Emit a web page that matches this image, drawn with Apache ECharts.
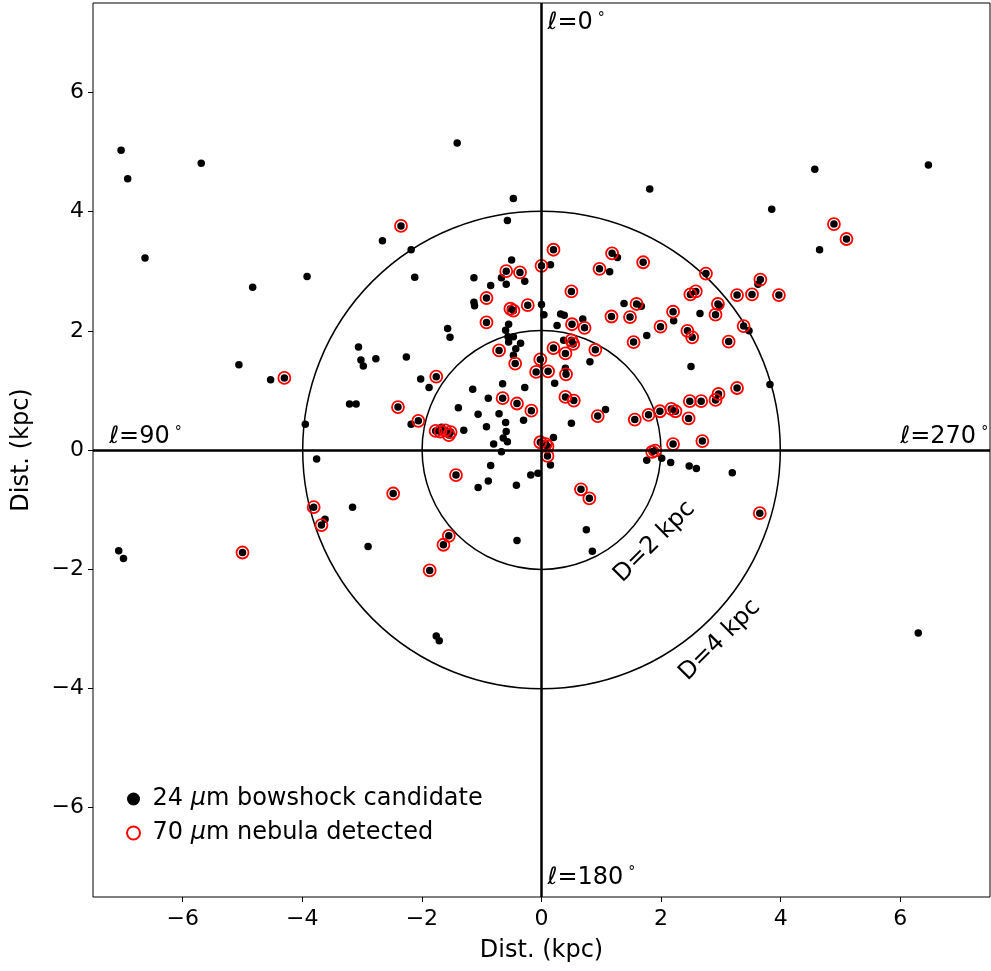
<!DOCTYPE html>
<html>
<head>
<meta charset="utf-8">
<script src="https://cdn.jsdelivr.net/npm/echarts@6/dist/echarts.min.js"></script>
<style>html,body{margin:0;padding:0;background:#fff}#c{width:991px;height:971px}</style>
</head>
<body>
<div id="c"></div>
<script>
// 24 um bowshock candidates without 70 um detection (kpc)
var candOnlyX = [-0.47,-0.57,-2.66,-2.18,-0.50,0.15,-2.12,-1.13,-0.67,-0.28,-0.85,-0.59,-1.13,-1.12,0.00,0.04,0.32,0.38,-0.55,0.26,-1.57,-1.53,-0.60,-0.56,-0.47,-0.55,-0.35,-0.43,-0.47,0.37,-2.26,-2.02,0.40,-1.88,-2.18,-1.67,-1.30,-1.39,-1.15,-1.06,-0.89,-0.65,-0.28,-0.71,-0.60,-0.30,-0.92,-0.59,-0.64,-0.57,-0.80,-0.67,0.20,0.15,-0.06,-0.18,-0.85,-0.89,-1.06,-0.42,0.50,0.22,-0.41,1.27,1.14,3.62,1.38,1.67,2.98,2.65,2.21,0.69,3.47,1.76,0.81,2.50,3.82,1.07,-7.03,-5.69,-6.92,-6.63,-3.92,-4.83,-3.06,-3.02,-2.98,-2.77,-5.06,-4.53,-3.21,-3.10,-3.95,-3.76,-3.62,-3.16,-2.90,-7.07,-6.99,1.76,2.01,2.16,2.47,2.59,3.19,0.75,0.85,4.57,6.47,3.85,4.65,-1.41,1.81,-1.76,-1.71,6.30];
var candOnlyY = [4.22,3.85,3.51,3.36,3.19,3.11,2.90,2.89,2.89,2.83,2.76,2.78,2.48,2.42,2.44,2.27,2.28,2.26,2.11,2.09,2.04,1.89,2.01,1.90,1.90,1.81,1.79,1.70,1.59,1.84,1.56,1.19,1.37,1.05,0.43,0.38,0.33,0.71,1.02,0.60,0.87,1.11,1.05,0.61,0.46,0.50,0.39,0.31,0.20,0.14,0.10,-0.03,0.21,-0.25,-0.39,-0.42,-0.26,-0.52,-0.63,-0.59,0.45,1.12,-1.52,3.23,2.99,2.78,2.46,2.41,2.41,2.29,2.17,2.20,2.00,1.92,1.48,1.40,1.10,0.68,5.03,4.81,4.55,3.22,2.91,2.73,1.73,1.51,1.41,1.53,1.43,1.18,0.77,0.77,0.43,-0.15,-1.16,-0.96,-1.62,-1.69,-1.82,-0.17,-0.14,-0.21,-0.27,-0.31,-0.38,-1.34,-1.70,4.71,4.78,4.04,3.36,5.15,4.38,-3.12,-3.20,-3.07];
// candidates with a 70 um nebula detected (kpc)
var nebX = [-2.35,0.20,0.00,-0.59,-0.36,0.50,-0.92,-0.23,-0.52,-0.47,-0.92,0.51,0.50,0.53,0.20,0.40,-0.71,-0.44,-0.02,-1.76,-0.09,0.11,0.41,-2.40,-2.06,-1.77,-1.69,-1.61,-1.55,-1.52,-0.65,-0.41,-0.17,-0.02,0.07,0.10,0.10,-1.43,-2.48,0.40,0.54,0.66,0.80,-1.55,-1.64,-1.87,1.18,1.70,0.97,2.75,3.66,2.49,2.58,3.27,3.52,3.97,1.59,2.95,2.91,2.20,1.17,1.48,0.72,1.99,2.44,2.52,3.38,1.54,3.13,0.90,3.27,2.96,2.91,2.67,2.48,0.94,1.56,1.79,1.98,2.17,2.24,2.46,2.20,2.69,-4.30,-3.81,-3.68,-5.00,1.85,1.90,3.65,4.89,5.10];
var nebY = [3.76,3.36,3.09,3.00,2.98,2.66,2.55,2.43,2.37,2.34,2.14,2.11,1.84,1.78,1.71,1.62,1.67,1.45,1.52,1.23,1.31,1.32,1.27,0.72,0.49,0.32,0.31,0.33,0.25,0.30,0.87,0.78,0.66,0.13,0.10,0.06,-0.10,-0.42,-0.73,0.89,0.83,-0.66,-0.81,-1.44,-1.59,-2.02,3.30,3.15,3.04,2.96,2.86,2.61,2.66,2.60,2.61,2.60,2.45,2.45,2.27,2.32,2.24,2.23,2.05,2.07,2.00,1.89,2.08,1.81,1.82,1.68,1.04,0.94,0.84,0.82,0.82,0.57,0.51,0.59,0.65,0.69,0.65,0.53,0.10,0.15,1.21,-0.96,-1.26,-1.72,-0.03,-0.01,-1.06,3.79,3.54];
// distance rings (kpc)
var ringRadii = [2, 4];
// tick labels
var tickValues = [-6, -4, -2, 0, 2, 4, 6];
// annotations
var annText = ['{t|\u2113=0}{d|\u00b0}', '{t|\u2113=90}{d|\u00b0}', '{t|\u2113=270}{d|\u00b0}', '{t|\u2113=180}{d|\u00b0}', '{t|D=2 kpc}', '{t|D=4 kpc}'];
var annX = [0.10, -7.23, 6.00, 0.10, 1.89, 2.98];
var annY = [7.16, 0.22, 0.22, -7.17, -1.54, -3.19];
var annAlign = ['left', 'left', 'left', 'left', 'center', 'center'];
var annRot = [0, 0, 0, 0, 45, 45];

var FONT = 'DejaVu Sans';
var bowName = '24 \u03bcm bowshock candidate';
var nebName = '70 \u03bcm nebula detected';

var bowData = [];
for (var i = 0; i < candOnlyX.length; i++) bowData.push([candOnlyX[i], candOnlyY[i]]);
for (var j = 0; j < nebX.length; j++) bowData.push([nebX[j], nebY[j]]);
var nebData = [];
for (var k = 0; k < nebX.length; k++) nebData.push([nebX[k], nebY[k]]);

function axisDef(name, gap, margin) {
  return {
    type: 'value', min: -7.5, max: 7.5,
    axisLine: { show: false, onZero: false },
    axisTick: { show: true, length: 5, inside: false, customValues: tickValues, lineStyle: { color: '#000', width: 1 } },
    axisLabel: { customValues: tickValues, color: '#000', fontSize: 22, fontFamily: FONT, margin: margin,
      formatter: function (v) { return v < 0 ? '\u2212' + Math.abs(v) : String(v); } },
    splitLine: { show: false },
    name: name, nameLocation: 'middle', nameGap: gap,
    nameTextStyle: { color: '#000', fontSize: 24, fontFamily: FONT }
  };
}

var chart = echarts.init(document.getElementById('c'), null, { renderer: 'canvas' });
chart.setOption({
  animation: false,
  backgroundColor: '#fff',
  grid: { left: 93, right: 1, top: 3, bottom: 74, show: true, borderColor: '#000', borderWidth: 1, backgroundColor: 'transparent' },
  xAxis: axisDef('Dist. (kpc)', 42, 11),
  yAxis: axisDef('Dist. (kpc)', 59, 9),
  legend: {
    orient: 'vertical', left: 126, top: 787, padding: 0, itemGap: 10,
    itemWidth: 28, itemHeight: 13,
    formatter: function (n) { return n.replace('\u03bcm', '{i|\u03bc}m'); },
    textStyle: { color: '#000', fontSize: 24, fontFamily: FONT,
      rich: { i: { fontStyle: 'italic', fontSize: 24, fontFamily: FONT, color: '#000' } } },
    data: [
      { name: bowName, icon: 'circle', itemStyle: { color: '#000', borderWidth: 0 } },
      { name: nebName, icon: 'circle', itemStyle: { color: 'rgba(0,0,0,0)', borderColor: '#ff0000', borderWidth: 2 } }
    ]
  },
  series: [
    {
      type: 'custom', name: 'rings', silent: true, z: 1,
      data: ringRadii.map(function (r) { return [r, 0]; }),
      encode: { x: 0, y: 1 },
      renderItem: function (params, api) {
        var r = ringRadii[params.dataIndex];
        var c = api.coord([0, 0]);
        var sx = api.size([r, 0])[0], sy = api.size([0, r])[1];
        return { type: 'circle', shape: { cx: c[0], cy: c[1], r: (sx + sy) / 2 },
          style: { fill: 'none', stroke: '#000', lineWidth: 1.5 } };
      },
      markLine: {
        silent: true, symbol: ['none', 'none'], label: { show: false },
        lineStyle: { color: '#000', width: 2.5, type: 'solid' },
        emphasis: { disabled: true },
        data: [{ xAxis: 0 }, { yAxis: 0 }]
      }
    },
    {
      type: 'scatter', name: bowName, z: 3, symbol: 'circle', symbolSize: 7.5,
      itemStyle: { color: '#000', opacity: 1 },
      emphasis: { disabled: true },
      data: bowData
    },
    {
      type: 'scatter', name: nebName, z: 4, symbol: 'circle', symbolSize: 12,
      itemStyle: { color: 'rgba(0,0,0,0)', borderColor: '#ff0000', borderWidth: 1.8, opacity: 1 },
      emphasis: { disabled: true },
      data: nebData
    },
    {
      type: 'custom', name: 'annotations', silent: true, z: 5,
      data: annX.map(function (x, i) { return [x, annY[i]]; }),
      encode: { x: 0, y: 1 },
      renderItem: function (params, api) {
        var i = params.dataIndex;
        var p = api.coord([annX[i], annY[i]]);
        return { type: 'text', x: p[0], y: p[1], rotation: annRot[i] * Math.PI / 180,
          style: { text: annText[i], align: annAlign[i], verticalAlign: 'middle', fill: '#000',
            rich: {
              t: { fontSize: 24, fontFamily: FONT, fill: '#000', color: '#000' },
              d: { fontSize: 14, fontFamily: FONT, fill: '#000', color: '#000', verticalAlign: 'top', padding: [0, 0, 0, 5] }
            } } };
      }
    }
  ]
});
</script>
</body>
</html>
